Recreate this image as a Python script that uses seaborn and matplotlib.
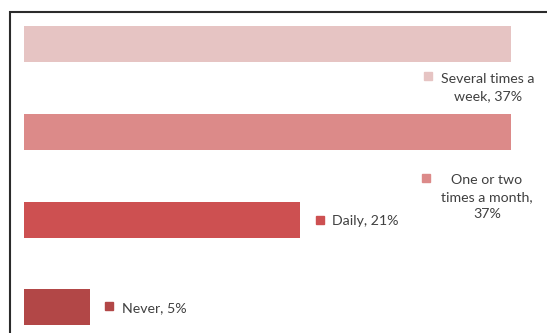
import matplotlib
matplotlib.use("Agg")
import matplotlib.pyplot as plt
import matplotlib.transforms as mtransforms
from matplotlib.patches import Rectangle
import seaborn as sns

# Survey frequency shares
categories = ["Several times a week", "One or two times a month", "Daily", "Never"]
shares = [37, 37, 21, 5]
label_names = ["Several times a\nweek", "One or two\ntimes a month", "Daily", "Never"]
label_joiners = [", ", ",\n", ", ", ", "]
bar_colors = ["#E6C4C3", "#DC8A89", "#CD5051", "#B24747"]

W, H, DPI = 547, 333, 100
sns.set_theme(style="white")
plt.rcParams["font.family"] = ["Lato", "DejaVu Sans"]

fig = plt.figure(figsize=(W / DPI, H / DPI), dpi=DPI)
fig.patch.set_facecolor("white")

# Plot area: value 0 at x=24px, value 37 at x=511px; bar pitch ~87.7px
pitch = 87.67
top_c = 44.2
ax = fig.add_axes([24 / W, 0, (511 - 24) / W, 1])
sns.barplot(x=shares, y=categories, hue=categories, palette=bar_colors,
            orient="h", width=0.41, saturation=1, legend=False, ax=ax,
            edgecolor="none", linewidth=0)
ax.set_xlim(0, max(shares))
ax.set_ylim((H - top_c) / pitch, -top_c / pitch)
ax.axis("off")

# Outer chart frame (runs past the right and bottom edges)
fig.patches.append(Rectangle((9.5 / W, -0.1), 1.2, (H - 11.5) / H + 0.1,
                             transform=fig.transFigure, fill=False,
                             edgecolor="#2b2b2b", linewidth=1.5, zorder=10))

text_color = "#404040"
fs = 10.2

def px(dx, dy):
    return mtransforms.offset_copy(ax.transData, fig=fig, x=dx, y=dy, units="dots")

# Label placement (pixel offsets from the bar end): marker offset, text offset, alignment
placements = [
    dict(mk=(-83.5, -31.3), tx=(-23, -43.5), ha="center"),
    dict(mk=(-84.6, -45.8), tx=(-24, -65.5), ha="center"),
    dict(mk=(19.3, 0), tx=(31.7, -1), ha="left"),
    dict(mk=(19.3, 1.3), tx=(32.3, -0.5), ha="left"),
]

for i, (name, joiner, v, c, p) in enumerate(zip(label_names, label_joiners,
                                                 shares, bar_colors, placements)):
    ax.plot([v], [i], marker="s", markersize=6.4, color=c, linestyle="none",
            transform=px(*p["mk"]), clip_on=False)
    ax.text(v, i, f"{name}{joiner}{v}%", transform=px(*p["tx"]),
            ha=p["ha"], va="center", multialignment="center",
            fontsize=fs, color=text_color, linespacing=1.5, clip_on=False)

fig.savefig("out.png", dpi=DPI, facecolor="white")
